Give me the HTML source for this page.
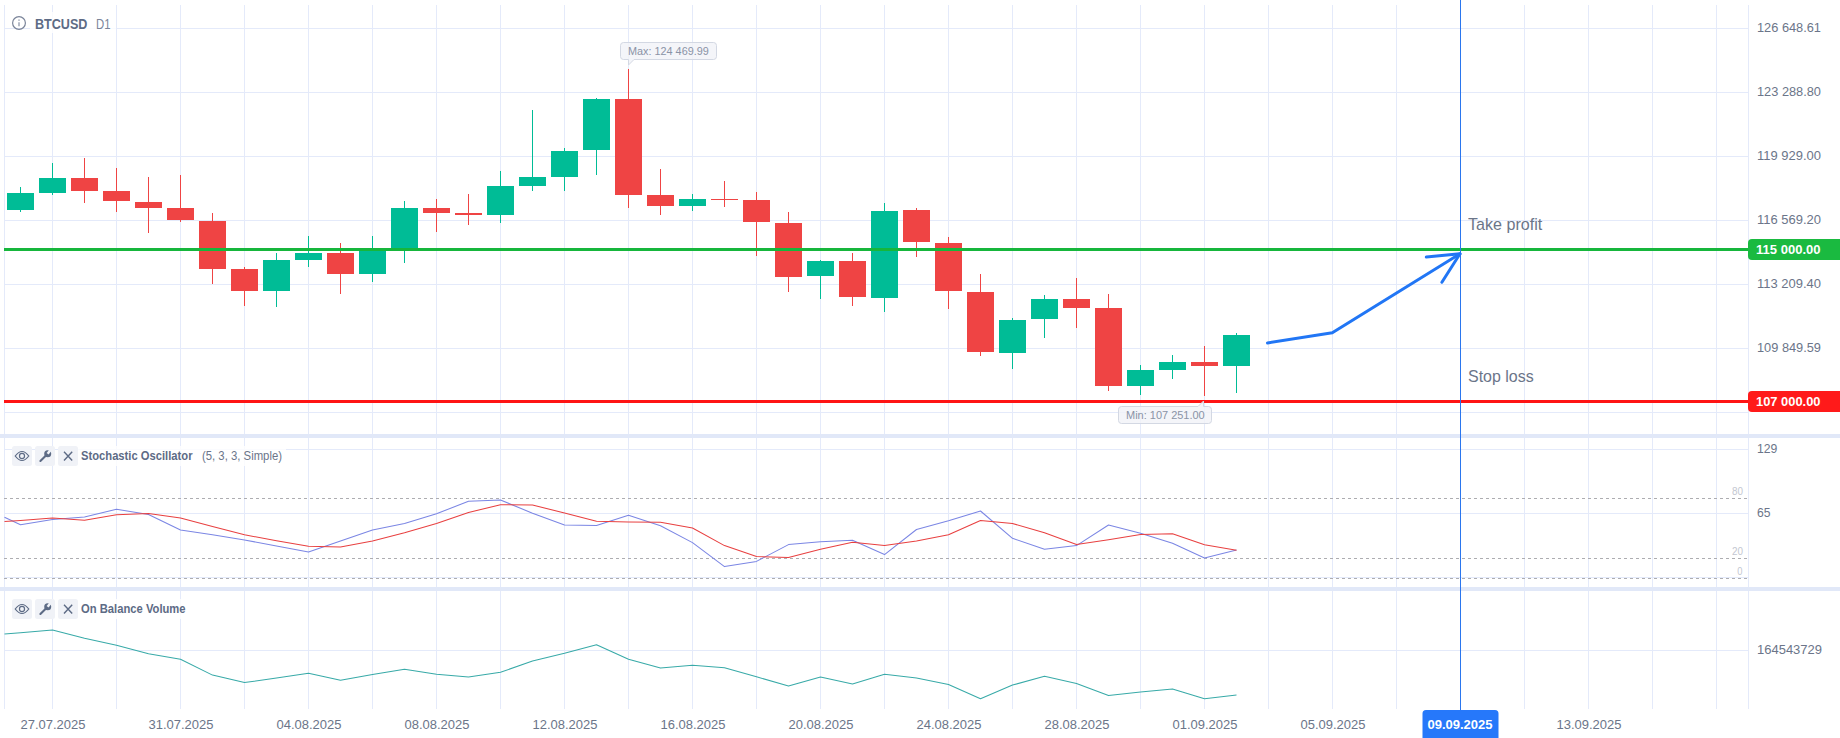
<!DOCTYPE html>
<html><head><meta charset="utf-8"><title>BTCUSD D1</title>
<style>
html,body{margin:0;padding:0;background:#fff;width:1840px;height:738px;overflow:hidden}
body{position:relative;font-family:"Liberation Sans",sans-serif}
svg{position:absolute;left:0;top:0}
.t{position:absolute;line-height:1;white-space:nowrap;transform-origin:0 0}
</style></head><body>
<svg width="1840" height="738" viewBox="0 0 1840 738">
<g shape-rendering="crispEdges" fill="#e4eafa"><rect x="4" y="5" width="1" height="704"/><rect x="1748" y="5" width="1" height="704"/><rect x="52" y="5" width="1" height="704"/><rect x="116" y="5" width="1" height="704"/><rect x="180" y="5" width="1" height="704"/><rect x="244" y="5" width="1" height="704"/><rect x="308" y="5" width="1" height="704"/><rect x="372" y="5" width="1" height="704"/><rect x="436" y="5" width="1" height="704"/><rect x="500" y="5" width="1" height="704"/><rect x="564" y="5" width="1" height="704"/><rect x="628" y="5" width="1" height="704"/><rect x="692" y="5" width="1" height="704"/><rect x="756" y="5" width="1" height="704"/><rect x="820" y="5" width="1" height="704"/><rect x="884" y="5" width="1" height="704"/><rect x="948" y="5" width="1" height="704"/><rect x="1012" y="5" width="1" height="704"/><rect x="1076" y="5" width="1" height="704"/><rect x="1140" y="5" width="1" height="704"/><rect x="1204" y="5" width="1" height="704"/><rect x="1268" y="5" width="1" height="704"/><rect x="1332" y="5" width="1" height="704"/><rect x="1396" y="5" width="1" height="704"/><rect x="1460" y="5" width="1" height="704"/><rect x="1524" y="5" width="1" height="704"/><rect x="1588" y="5" width="1" height="704"/><rect x="1652" y="5" width="1" height="704"/><rect x="1716" y="5" width="1" height="704"/><rect x="4" y="28" width="1744" height="1"/><rect x="4" y="92" width="1744" height="1"/><rect x="4" y="156" width="1744" height="1"/><rect x="4" y="220" width="1744" height="1"/><rect x="4" y="284" width="1744" height="1"/><rect x="4" y="348" width="1744" height="1"/><rect x="4" y="412" width="1744" height="1"/><rect x="4" y="449" width="1744" height="1"/><rect x="4" y="513" width="1744" height="1"/><rect x="4" y="577" width="1744" height="1"/><rect x="4" y="650" width="1744" height="1"/></g>
<g shape-rendering="crispEdges" fill="#e1e8f8"><rect x="0" y="434" width="1840" height="4"/><rect x="0" y="587" width="1840" height="4"/></g>
<line x1="4" y1="498.5" x2="1748" y2="498.5" stroke="#adadb1" stroke-width="1" stroke-dasharray="3 3" shape-rendering="crispEdges"/>
<line x1="4" y1="558.5" x2="1748" y2="558.5" stroke="#adadb1" stroke-width="1" stroke-dasharray="3 3" shape-rendering="crispEdges"/>
<line x1="4" y1="578.5" x2="1748" y2="578.5" stroke="#adadb1" stroke-width="1" stroke-dasharray="3 3" shape-rendering="crispEdges"/>
<g fill="#fff" fill-opacity="0.82"><rect x="30" y="12" width="86" height="21"/><rect x="78" y="446" width="208" height="20"/><rect x="78" y="599" width="112" height="20"/></g>
<g shape-rendering="crispEdges"><rect x="20" y="187" width="1" height="25" fill="#00bc96"/><rect x="7" y="193" width="27" height="17" fill="#00bc96"/><rect x="52" y="163" width="1" height="32" fill="#00bc96"/><rect x="39" y="178" width="27" height="15" fill="#00bc96"/><rect x="84" y="158" width="1" height="45" fill="#ef4444"/><rect x="71" y="178" width="27" height="13" fill="#ef4444"/><rect x="116" y="168" width="1" height="44" fill="#ef4444"/><rect x="103" y="191" width="27" height="10" fill="#ef4444"/><rect x="148" y="177" width="1" height="56" fill="#ef4444"/><rect x="135" y="202" width="27" height="6" fill="#ef4444"/><rect x="180" y="175" width="1" height="47" fill="#ef4444"/><rect x="167" y="208" width="27" height="12" fill="#ef4444"/><rect x="212" y="213" width="1" height="71" fill="#ef4444"/><rect x="199" y="221" width="27" height="48" fill="#ef4444"/><rect x="244" y="267" width="1" height="39" fill="#ef4444"/><rect x="231" y="269" width="27" height="22" fill="#ef4444"/><rect x="276" y="253" width="1" height="54" fill="#00bc96"/><rect x="263" y="260" width="27" height="31" fill="#00bc96"/><rect x="308" y="236" width="1" height="31" fill="#00bc96"/><rect x="295" y="253" width="27" height="7" fill="#00bc96"/><rect x="340" y="243" width="1" height="51" fill="#ef4444"/><rect x="327" y="253" width="27" height="21" fill="#ef4444"/><rect x="372" y="236" width="1" height="46" fill="#00bc96"/><rect x="359" y="250" width="27" height="24" fill="#00bc96"/><rect x="404" y="201" width="1" height="62" fill="#00bc96"/><rect x="391" y="208" width="27" height="42" fill="#00bc96"/><rect x="436" y="199" width="1" height="33" fill="#ef4444"/><rect x="423" y="208" width="27" height="5" fill="#ef4444"/><rect x="468" y="194" width="1" height="31" fill="#ef4444"/><rect x="455" y="213" width="27" height="2" fill="#ef4444"/><rect x="500" y="171" width="1" height="52" fill="#00bc96"/><rect x="487" y="186" width="27" height="29" fill="#00bc96"/><rect x="532" y="110" width="1" height="81" fill="#00bc96"/><rect x="519" y="177" width="27" height="9" fill="#00bc96"/><rect x="564" y="148" width="1" height="43" fill="#00bc96"/><rect x="551" y="151" width="27" height="26" fill="#00bc96"/><rect x="596" y="98" width="1" height="77" fill="#00bc96"/><rect x="583" y="99" width="27" height="51" fill="#00bc96"/><rect x="628" y="69" width="1" height="139" fill="#ef4444"/><rect x="615" y="99" width="27" height="96" fill="#ef4444"/><rect x="660" y="169" width="1" height="46" fill="#ef4444"/><rect x="647" y="195" width="27" height="11" fill="#ef4444"/><rect x="692" y="194" width="1" height="17" fill="#00bc96"/><rect x="679" y="199" width="27" height="7" fill="#00bc96"/><rect x="724" y="181" width="1" height="26" fill="#ef4444"/><rect x="711" y="199" width="27" height="1" fill="#ef4444"/><rect x="756" y="192" width="1" height="64" fill="#ef4444"/><rect x="743" y="200" width="27" height="22" fill="#ef4444"/><rect x="788" y="212" width="1" height="80" fill="#ef4444"/><rect x="775" y="223" width="27" height="54" fill="#ef4444"/><rect x="820" y="260" width="1" height="39" fill="#00bc96"/><rect x="807" y="261" width="27" height="15" fill="#00bc96"/><rect x="852" y="253" width="1" height="53" fill="#ef4444"/><rect x="839" y="261" width="27" height="36" fill="#ef4444"/><rect x="884" y="203" width="1" height="109" fill="#00bc96"/><rect x="871" y="211" width="27" height="87" fill="#00bc96"/><rect x="916" y="208" width="1" height="49" fill="#ef4444"/><rect x="903" y="210" width="27" height="32" fill="#ef4444"/><rect x="948" y="237" width="1" height="72" fill="#ef4444"/><rect x="935" y="243" width="27" height="48" fill="#ef4444"/><rect x="980" y="274" width="1" height="82" fill="#ef4444"/><rect x="967" y="292" width="27" height="60" fill="#ef4444"/><rect x="1012" y="318" width="1" height="51" fill="#00bc96"/><rect x="999" y="320" width="27" height="33" fill="#00bc96"/><rect x="1044" y="295" width="1" height="43" fill="#00bc96"/><rect x="1031" y="299" width="27" height="20" fill="#00bc96"/><rect x="1076" y="278" width="1" height="50" fill="#ef4444"/><rect x="1063" y="299" width="27" height="9" fill="#ef4444"/><rect x="1108" y="294" width="1" height="97" fill="#ef4444"/><rect x="1095" y="308" width="27" height="78" fill="#ef4444"/><rect x="1140" y="365" width="1" height="30" fill="#00bc96"/><rect x="1127" y="370" width="27" height="16" fill="#00bc96"/><rect x="1172" y="355" width="1" height="24" fill="#00bc96"/><rect x="1159" y="362" width="27" height="8" fill="#00bc96"/><rect x="1204" y="346" width="1" height="50" fill="#ef4444"/><rect x="1191" y="362" width="27" height="4" fill="#ef4444"/><rect x="1236" y="333" width="1" height="60" fill="#00bc96"/><rect x="1223" y="335" width="27" height="31" fill="#00bc96"/></g>
<rect x="4" y="248" width="1746" height="3" fill="#16b63c" shape-rendering="crispEdges"/>
<rect x="4" y="400" width="1746" height="3" fill="#ff1414" shape-rendering="crispEdges"/>
<rect x="1460" y="0" width="1" height="712" fill="#2a76ee" shape-rendering="crispEdges"/>
<g fill="none" stroke="#2176f5" stroke-width="3" stroke-linecap="round" stroke-linejoin="round"><polyline points="1267.5,343 1332.3,332.8 1460,253.8"/><polyline points="1426.3,257.1 1460,253.8 1441.9,282.3"/></g>
<polyline points="4.5,517.3 20.5,524.8 52.5,519.5 84.5,517 116.5,509.2 148.5,514.5 180.5,530 212.5,534.8 244.5,540 276.5,546 308.5,552.1 340.5,541 372.5,530 404.5,523.5 436.5,513.8 468.5,501.2 500.5,500 532.5,513.2 564.5,525 596.5,525.5 628.5,515.2 660.5,525.8 692.5,542.6 724.5,566.6 756.5,561.4 788.5,544.6 820.5,541.8 852.5,540.3 884.5,554.6 916.5,529.5 948.5,520.8 980.5,511 1012.5,538.3 1044.5,549.3 1076.5,545.6 1108.5,525 1140.5,533.3 1172.5,543.3 1204.5,558.1 1236.5,550.1" fill="none" stroke="#7b86e4" stroke-width="1.05" stroke-linejoin="round"/>
<polyline points="4.5,521.5 20.5,520.5 52.5,518 84.5,520.3 116.5,514.7 148.5,513.5 180.5,518 212.5,526.5 244.5,534.8 276.5,540.8 308.5,546.3 340.5,547.1 372.5,541 404.5,532.8 436.5,523.5 468.5,512.5 500.5,504.7 532.5,505 564.5,513 596.5,521.3 628.5,522 660.5,522.3 692.5,528 724.5,545.6 756.5,556.6 788.5,557.4 820.5,549.3 852.5,542.3 884.5,545.6 916.5,541.1 948.5,534.8 980.5,520.5 1012.5,523.5 1044.5,532.8 1076.5,544.6 1108.5,539.8 1140.5,534.6 1172.5,533.8 1204.5,544.8 1236.5,550.3" fill="none" stroke="#e84040" stroke-width="1.05" stroke-linejoin="round"/>
<polyline points="4.5,634 20.5,632.7 52.5,630 84.5,638.2 116.5,645.3 148.5,653.8 180.5,659.3 212.5,675.1 244.5,682.6 276.5,678.1 308.5,673.3 340.5,680.3 372.5,674.6 404.5,669.3 436.5,674.3 468.5,677.1 500.5,672.3 532.5,661 564.5,653.3 596.5,644.8 628.5,659.3 660.5,668.1 692.5,665.3 724.5,667.8 756.5,676.8 788.5,686.1 820.5,677.1 852.5,683.9 884.5,674.3 916.5,678.1 948.5,684.4 980.5,698.7 1012.5,685.1 1044.5,676.3 1076.5,683.6 1108.5,695.6 1140.5,691.9 1172.5,688.9 1204.5,698.7 1236.5,695.1" fill="none" stroke="#38aaa8" stroke-width="1.05" stroke-linejoin="round"/>
<path d="M1840 239H1752a4 4 0 0 0-4 4v13a4 4 0 0 0 4 4h88z" fill="#1aba40"/>
<path d="M1840 391H1752a4 4 0 0 0-4 4v13a4 4 0 0 0 4 4h88z" fill="#ff1a1a"/>
<path d="M1422.5 738V713.5a3.5 3.5 0 0 1 3.5-3.5h69a3.5 3.5 0 0 1 3.5 3.5v24.5z" fill="#2678fa"/>
<g fill="#f1f3f8" fill-opacity="0.8" stroke="#d3d8e3" stroke-width="1"><path d="M623.5 42.5h90a3 3 0 0 1 3 3v11a3 3 0 0 1-3 3h-79.5l-5.5 5.5v-5.5h-5a3 3 0 0 1-3-3v-11a3 3 0 0 1 3-3z"/><path d="M1121.5 406.5h76.5l5.5-5.5v5.5h5a3 3 0 0 1 3 3v11a3 3 0 0 1-3 3h-87a3 3 0 0 1-3-3v-11a3 3 0 0 1 3-3z"/></g>
<g fill="#f0f2f7"><rect x="12" y="446" width="20" height="20" rx="2.5"/><rect x="35" y="446" width="20" height="20" rx="2.5"/><rect x="58" y="446" width="20" height="20" rx="2.5"/></g><g fill="none" stroke="#5d6b85" stroke-width="1.2"><path d="M15.2 456Q22 447.0 28.8 456Q22 465.0 15.2 456z"/><circle cx="22" cy="456" r="2.55"/></g><path d="M40.4 461L46.5 455.09999999999997" stroke="#5d6b85" stroke-width="2.1" stroke-linecap="round" fill="none"/><circle cx="47.7" cy="453.7" r="3.5" fill="#5d6b85"/><rect transform="translate(47.7 453.7) rotate(-52)" x="-0.1" y="-1.25" width="5" height="2.5" fill="#f0f2f7"/><path d="M64 451.8l8.2 8.6M72.2 451.8l-8.2 8.6" stroke="#5d6b85" stroke-width="1.4" fill="none"/>
<g fill="#f0f2f7"><rect x="12" y="599" width="20" height="20" rx="2.5"/><rect x="35" y="599" width="20" height="20" rx="2.5"/><rect x="58" y="599" width="20" height="20" rx="2.5"/></g><g fill="none" stroke="#5d6b85" stroke-width="1.2"><path d="M15.2 609Q22 600.0 28.8 609Q22 618.0 15.2 609z"/><circle cx="22" cy="609" r="2.55"/></g><path d="M40.4 614L46.5 608.1" stroke="#5d6b85" stroke-width="2.1" stroke-linecap="round" fill="none"/><circle cx="47.7" cy="606.7" r="3.5" fill="#5d6b85"/><rect transform="translate(47.7 606.7) rotate(-52)" x="-0.1" y="-1.25" width="5" height="2.5" fill="#f0f2f7"/><path d="M64 604.8l8.2 8.6M72.2 604.8l-8.2 8.6" stroke="#5d6b85" stroke-width="1.4" fill="none"/>
<g stroke="#7a8499" fill="none"><circle cx="19" cy="23" r="6.4" stroke-width="1.2"/><path d="M19 22.3v4" stroke-width="1.1"/><path d="M19 19.6v1.2" stroke-width="1.2"/></g>
</svg>
<div class="t" id="sym" style="left:34.6px;top:17px;font-size:14px;font-weight:bold;color:#5d6b85;transform:scaleX(0.8981);">BTCUSD</div>
<div class="t" id="tf" style="left:95.8px;top:17px;font-size:14px;font-weight:normal;color:#7a8499;transform:scaleX(0.8098);">D1</div>
<div class="t" id="ax0" style="left:1756.5px;top:21px;font-size:13px;font-weight:normal;color:#6b7589;transform:scaleX(0.9834);">126 648.61</div>
<div class="t" id="ax1" style="left:1756.5px;top:85px;font-size:13px;font-weight:normal;color:#6b7589;transform:scaleX(0.9834);">123 288.80</div>
<div class="t" id="ax2" style="left:1756.5px;top:149px;font-size:13px;font-weight:normal;color:#6b7589;transform:scaleX(0.9983);">119 929.00</div>
<div class="t" id="ax3" style="left:1756.5px;top:213px;font-size:13px;font-weight:normal;color:#6b7589;transform:scaleX(0.9983);">116 569.20</div>
<div class="t" id="ax4" style="left:1756.5px;top:277px;font-size:13px;font-weight:normal;color:#6b7589;transform:scaleX(0.9983);">113 209.40</div>
<div class="t" id="ax5" style="left:1756.5px;top:341px;font-size:13px;font-weight:normal;color:#6b7589;transform:scaleX(0.9834);">109 849.59</div>
<div class="t" id="ax6" style="left:1756.5px;top:442px;font-size:13px;font-weight:normal;color:#6b7589;transform:scaleX(0.9400);">129</div>
<div class="t" id="ax7" style="left:1756.5px;top:506px;font-size:13px;font-weight:normal;color:#6b7589;transform:scaleX(0.9330);">65</div>
<div class="t" id="ax8" style="left:1756.5px;top:643px;font-size:13px;font-weight:normal;color:#6b7589;transform:scaleX(0.9988);">164543729</div>
<div class="t" id="tp" style="left:1756.3px;top:243px;font-size:13px;font-weight:bold;color:#fff;transform:scaleX(1.0022);">115 000.00</div>
<div class="t" id="sl" style="left:1756.3px;top:395px;font-size:13px;font-weight:bold;color:#fff;transform:scaleX(0.9911);">107 000.00</div>
<div class="t" id="d0" style="left:-47.5px;width:200px;text-align:center;top:718px;font-size:13px;font-weight:normal;color:#6b7589;transform-origin:50% 0;transform:scaleX(0.9988);">27.07.2025</div>
<div class="t" id="d1" style="left:80.5px;width:200px;text-align:center;top:718px;font-size:13px;font-weight:normal;color:#6b7589;transform-origin:50% 0;transform:scaleX(0.9988);">31.07.2025</div>
<div class="t" id="d2" style="left:208.5px;width:200px;text-align:center;top:718px;font-size:13px;font-weight:normal;color:#6b7589;transform-origin:50% 0;transform:scaleX(0.9988);">04.08.2025</div>
<div class="t" id="d3" style="left:336.5px;width:200px;text-align:center;top:718px;font-size:13px;font-weight:normal;color:#6b7589;transform-origin:50% 0;transform:scaleX(0.9988);">08.08.2025</div>
<div class="t" id="d4" style="left:464.5px;width:200px;text-align:center;top:718px;font-size:13px;font-weight:normal;color:#6b7589;transform-origin:50% 0;transform:scaleX(0.9988);">12.08.2025</div>
<div class="t" id="d5" style="left:592.5px;width:200px;text-align:center;top:718px;font-size:13px;font-weight:normal;color:#6b7589;transform-origin:50% 0;transform:scaleX(0.9988);">16.08.2025</div>
<div class="t" id="d6" style="left:720.5px;width:200px;text-align:center;top:718px;font-size:13px;font-weight:normal;color:#6b7589;transform-origin:50% 0;transform:scaleX(0.9988);">20.08.2025</div>
<div class="t" id="d7" style="left:848.5px;width:200px;text-align:center;top:718px;font-size:13px;font-weight:normal;color:#6b7589;transform-origin:50% 0;transform:scaleX(0.9988);">24.08.2025</div>
<div class="t" id="d8" style="left:976.5px;width:200px;text-align:center;top:718px;font-size:13px;font-weight:normal;color:#6b7589;transform-origin:50% 0;transform:scaleX(0.9988);">28.08.2025</div>
<div class="t" id="d9" style="left:1104.5px;width:200px;text-align:center;top:718px;font-size:13px;font-weight:normal;color:#6b7589;transform-origin:50% 0;transform:scaleX(0.9988);">01.09.2025</div>
<div class="t" id="d10" style="left:1232.5px;width:200px;text-align:center;top:718px;font-size:13px;font-weight:normal;color:#6b7589;transform-origin:50% 0;transform:scaleX(0.9988);">05.09.2025</div>
<div class="t" id="d11" style="left:1360.3px;width:200px;text-align:center;top:718px;font-size:13px;font-weight:bold;color:#fff;transform-origin:50% 0;transform:scaleX(1.0019);">09.09.2025</div>
<div class="t" id="d12" style="left:1488.5px;width:200px;text-align:center;top:718px;font-size:13px;font-weight:normal;color:#6b7589;transform-origin:50% 0;transform:scaleX(0.9988);">13.09.2025</div>
<div class="t" id="take" style="left:1468.2px;top:216px;font-size:17px;font-weight:normal;color:#6b7589;transform:scaleX(0.9460);">Take profit</div>
<div class="t" id="stop" style="left:1467.7px;top:368px;font-size:17px;font-weight:normal;color:#6b7589;transform:scaleX(0.9394);">Stop loss</div>
<div class="t" id="so" style="left:81.4px;top:449px;font-size:13px;font-weight:bold;color:#5d6b85;transform:scaleX(0.8621);">Stochastic Oscillator</div>
<div class="t" id="sop" style="left:201.5px;top:449px;font-size:13px;font-weight:normal;color:#6b7589;transform:scaleX(0.8718);">(5, 3, 3, Simple)</div>
<div class="t" id="obv" style="left:81.4px;top:602px;font-size:13px;font-weight:bold;color:#5d6b85;transform:scaleX(0.8635);">On Balance Volume</div>
<div class="t" id="max" style="left:628px;top:46px;font-size:11px;font-weight:normal;color:#8a93a6;transform:scaleX(0.9859);">Max: 124 469.99</div>
<div class="t" id="min" style="left:1125.6px;top:410px;font-size:11px;font-weight:normal;color:#8a93a6;transform:scaleX(0.9976);">Min: 107 251.00</div>
<div class="t" id="l80" style="right:96.79999999999995px;top:487px;font-size:10px;font-weight:normal;color:#c3c7d1;transform-origin:100% 0;transform:scaleX(0.9888);">80</div>
<div class="t" id="l20" style="right:96.79999999999995px;top:547px;font-size:10px;font-weight:normal;color:#c3c7d1;transform-origin:100% 0;transform:scaleX(0.9888);">20</div>
<div class="t" id="l0" style="right:97px;top:567px;font-size:10px;font-weight:normal;color:#c3c7d1;transform-origin:100% 0;transform:scaleX(0.9348);">0</div>
</body></html>
